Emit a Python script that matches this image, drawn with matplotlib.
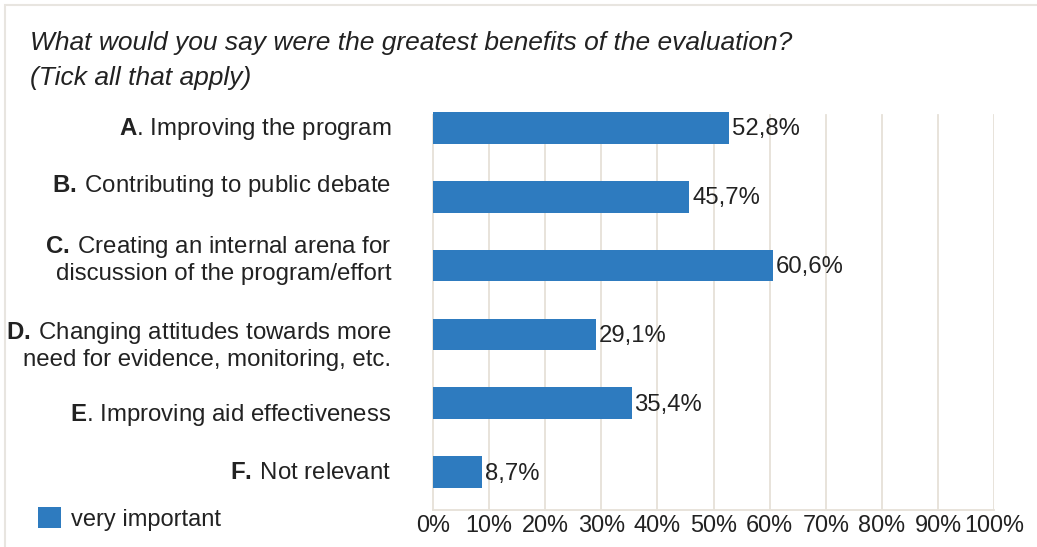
import numpy as np
import matplotlib.pyplot as plt
import matplotlib.transforms as mtransforms
from matplotlib.patches import Rectangle

plt.rcParams['font.family'] = ['Liberation Sans', 'DejaVu Sans']
plt.rcParams['mathtext.fontset'] = 'custom'
plt.rcParams['mathtext.rm'] = 'Liberation Sans'
plt.rcParams['mathtext.bf'] = 'Liberation Sans:bold'

labels = [
    r'$\mathbf{A}$. Improving the program',
    r'$\mathbf{B.}\,$Contributing to public debate',
    r'$\mathbf{C.}\,$Creating an internal arena for' + '\n' + 'discussion of the program/effort',
    r'$\mathbf{D.}\,$Changing attitudes towards more' + '\n' + 'need for evidence, monitoring, etc.',
    r'$\mathbf{E}$. Improving aid effectiveness',
    r'$\mathbf{F.}\,$Not relevant',
]
values = [52.8, 45.7, 60.6, 29.1, 35.4, 8.7]
value_text = ['52,8%', '45,7%', '60,6%', '29,1%', '35,4%', '8,7%']
xticks = np.arange(0, 101, 10)

bar_color = '#2E7BBF'
grid_color = '#E6E1D8'
text_color = '#222222'

fig = plt.figure(figsize=(10.37, 5.47), dpi=100)
ax = fig.add_axes([0.4176, 0.0676, 0.541, 0.757])

y = np.arange(len(values))
bars = ax.barh(y, values, height=0.46, color=bar_color, label='very important',
               zorder=3, clip_on=False)

for v, t, yy in zip(values, value_text, y):
    ax.text(v + 0.5, yy + 0.02, t, va='center', ha='left', fontsize=17.2, color=text_color)

ax.set_xlim(0, 100)
ax.set_ylim(5.55, -0.465)

for xv in xticks[1:]:
    ax.axvline(xv, ymin=0, ymax=0.954, color=grid_color, lw=1.3, zorder=1)

ax.set_xticks(xticks)
ax.set_xticklabels([f'{x}%' for x in xticks], fontsize=16.9, color=text_color)
ax.set_yticks(y)
ax.set_yticklabels(labels, fontsize=17.3, color=text_color, ha='right',
                   multialignment='right', linespacing=1.15)
ax.tick_params(axis='both', length=0)
ax.tick_params(axis='y', pad=30)
ax.tick_params(axis='x', pad=3)

# the labels in the original sit a little off the bar centres
shift_px = [2, 14, 10, -7, -8, 2]
for lab, dy in zip(ax.get_yticklabels(), shift_px):
    off = mtransforms.ScaledTranslation(0, dy / 100, fig.dpi_scale_trans)
    lab.set_transform(lab.get_transform() + off)

for s in ['top', 'right']:
    ax.spines[s].set_visible(False)
ax.spines['left'].set_color(grid_color)
ax.spines['bottom'].set_color(grid_color)
ax.spines['left'].set_linewidth(1.3)
ax.spines['bottom'].set_linewidth(1.3)
ax.spines['left'].set_bounds(5.55, -0.19)

fig.text(0.029, 0.921, 'What would you say were the greatest benefits of the evaluation?',
         fontsize=19, style='italic', color=text_color, va='center')
fig.text(0.029, 0.857, '(Tick all that apply)',
         fontsize=19, style='italic', color=text_color, va='center')

fig.legend(handles=[bars], labels=['very important'], loc='center left',
           bbox_to_anchor=(0.037, 0.051), frameon=False, fontsize=17,
           handlelength=0.95, handleheight=1.0, handletextpad=0.45,
           borderaxespad=0, borderpad=0, labelcolor=text_color)

# light frame around the chart
fig.patches.append(Rectangle((5 / 1037, -0.05), 1.1, 1 - 5 / 547 + 0.05,
                             transform=fig.transFigure, fill=False,
                             edgecolor='#E8E5E0', lw=1.5))

fig.savefig('out.png', dpi=100)
